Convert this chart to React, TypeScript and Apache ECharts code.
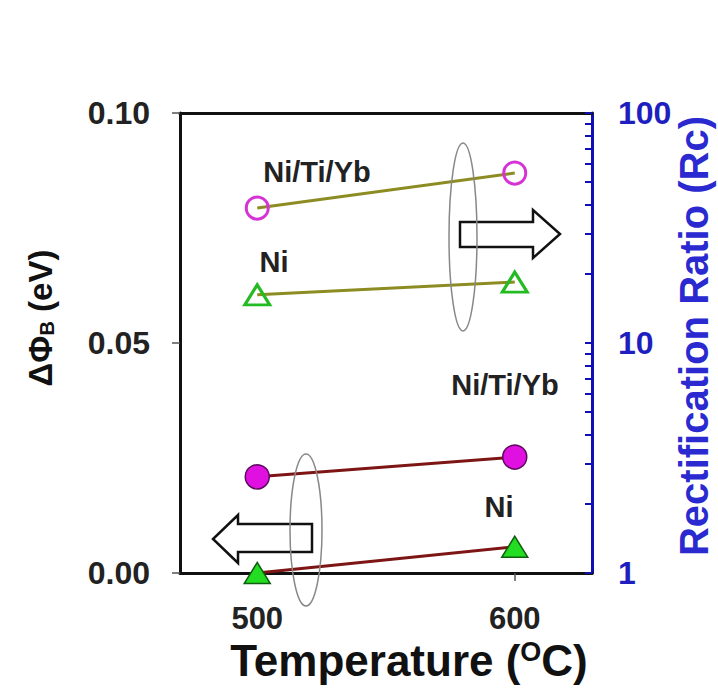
import React, { useEffect, useRef } from "react";
import * as echarts from "echarts";

const temperatures = [500, 600];
const dPhiNiTiYb = [0.0209, 0.0252];
const dPhiNi = [0.0, 0.0057];
const rcNiTiYb = [38.6, 54.8];
const rcNi = [16.2, 18.4];
const xTickValues = [500, 600];
const rightLabelValues = [1, 10, 100];
const rightTickValues = [1, 2, 3, 4, 5, 6, 7, 8, 9, 10, 20, 30, 40, 50, 60, 70, 80, 90, 100];

const FONT = "Arial, 'Liberation Sans', Helvetica, sans-serif";
const BLUE = "#1f1fc0";

function pairs(xs: number[], ys: number[]) {
  return xs.map((x, i) => [x, ys[i]]);
}

export default function App() {
  const ref = useRef<HTMLDivElement>(null);
  useEffect(() => {
    document.body.style.margin = "0";
    const chart = echarts.init(ref.current!, null, { renderer: "svg" });
    chart.setOption({
      animation: false,
      backgroundColor: "#ffffff",
      grid: { left: 180, top: 113, right: 126, bottom: 116, containLabel: false },
      xAxis: [
        {
          type: "value",
          min: 470,
          max: 630,
          axisLine: { show: true, lineStyle: { color: "#111", width: 3 } },
          axisTick: { show: true, customValues: xTickValues, length: 8, lineStyle: { color: "#555", width: 1.5 } },
          axisLabel: {
            customValues: xTickValues,
            margin: 30,
            color: "#222",
            fontSize: 31,
            fontWeight: "bold",
            fontFamily: FONT,
          },
          splitLine: { show: false },
        },
        {
          type: "value",
          position: "top",
          min: 470,
          max: 630,
          axisLine: { show: true, lineStyle: { color: "#111", width: 3 } },
          axisTick: { show: false },
          axisLabel: { show: false },
          splitLine: { show: false },
        },
      ],
      yAxis: [
        {
          type: "value",
          min: 0,
          max: 0.1,
          interval: 0.05,
          axisLine: { show: true, lineStyle: { color: "#111", width: 3 } },
          axisTick: { show: true, length: 8, lineStyle: { color: "#555", width: 1.5 } },
          axisLabel: {
            formatter: (v: number) => v.toFixed(2),
            margin: 30,
            color: "#222",
            fontSize: 32,
            fontWeight: "bold",
            fontFamily: FONT,
          },
          splitLine: { show: false },
        },
        {
          type: "log",
          logBase: 10,
          min: 1,
          max: 100,
          position: "right",
          axisLine: { show: true, lineStyle: { color: "#1010b0", width: 3 } },
          axisTick: {
            show: true,
            inside: true,
            length: 7,
            customValues: rightTickValues,
            lineStyle: { color: "#1010b0", width: 2 },
          },
          minorTick: { show: false },
          axisLabel: {
            customValues: rightLabelValues,
            margin: 26,
            color: BLUE,
            fontSize: 32,
            fontWeight: "bold",
            fontFamily: FONT,
          },
          splitLine: { show: false },
        },
      ],
      series: [
        {
          name: "dPhi Ni/Ti/Yb",
          type: "line",
          xAxisIndex: 0,
          yAxisIndex: 0,
          data: pairs(temperatures, dPhiNiTiYb),
          clip: false,
          symbol: "circle",
          symbolSize: 24,
          lineStyle: { color: "#7d1515", width: 3 },
          itemStyle: { color: "#e010e0", borderColor: "#5a0a5a", borderWidth: 1.5 },
        },
        {
          name: "dPhi Ni",
          type: "line",
          xAxisIndex: 0,
          yAxisIndex: 0,
          data: pairs(temperatures, dPhiNi),
          clip: false,
          symbol: "triangle",
          symbolSize: [26, 21],
          lineStyle: { color: "#7d1515", width: 3 },
          itemStyle: { color: "#22dd22", borderColor: "#0f5f0f", borderWidth: 1.5 },
        },
        {
          name: "Rc Ni/Ti/Yb",
          type: "line",
          xAxisIndex: 0,
          yAxisIndex: 1,
          data: pairs(temperatures, rcNiTiYb),
          clip: false,
          symbol: "circle",
          symbolSize: 22,
          lineStyle: { color: "#8c8c22", width: 3 },
          itemStyle: { color: "rgba(255,255,255,0)", borderColor: "#d633d6", borderWidth: 3 },
        },
        {
          name: "Rc Ni",
          type: "line",
          xAxisIndex: 0,
          yAxisIndex: 1,
          data: pairs(temperatures, rcNi),
          clip: false,
          symbol: "triangle",
          symbolSize: [25, 20],
          lineStyle: { color: "#8c8c22", width: 3 },
          itemStyle: { color: "rgba(255,255,255,0)", borderColor: "#22bb22", borderWidth: 3 },
        },
      ],
      graphic: [
        {
          type: "polygon",
          z: 5,
          shape: {
            points: [
              [460, 222], [533, 222], [533, 210], [560, 234], [533, 258], [533, 247], [460, 247],
            ],
          },
          style: { fill: "#ffffff", stroke: "#111", lineWidth: 2.5 },
        },
        {
          type: "polygon",
          z: 5,
          shape: {
            points: [
              [312, 524], [238, 524], [238, 515], [213, 539], [238, 563], [238, 552], [312, 552],
            ],
          },
          style: { fill: "#ffffff", stroke: "#111", lineWidth: 2.5 },
        },
        {
          type: "ellipse",
          z: 6,
          shape: { cx: 463, cy: 237, rx: 14, ry: 94 },
          style: { fill: "transparent", stroke: "#888", lineWidth: 1.5 },
        },
        {
          type: "ellipse",
          z: 6,
          shape: { cx: 306, cy: 530, rx: 16, ry: 76 },
          style: { fill: "transparent", stroke: "#888", lineWidth: 1.5 },
        },
        {
          type: "text",
          z: 7,
          x: 317,
          y: 172,
          style: { text: "Ni/Ti/Yb", fill: "#222", fontSize: 29, fontWeight: "bold", fontFamily: FONT, align: "center", verticalAlign: "middle" },
        },
        {
          type: "text",
          z: 7,
          x: 274,
          y: 262,
          style: { text: "Ni", fill: "#222", fontSize: 29, fontWeight: "bold", fontFamily: FONT, align: "center", verticalAlign: "middle" },
        },
        {
          type: "text",
          z: 7,
          x: 505,
          y: 385,
          style: { text: "Ni/Ti/Yb", fill: "#222", fontSize: 29, fontWeight: "bold", fontFamily: FONT, align: "center", verticalAlign: "middle" },
        },
        {
          type: "text",
          z: 7,
          x: 499,
          y: 507,
          style: { text: "Ni", fill: "#222", fontSize: 29, fontWeight: "bold", fontFamily: FONT, align: "center", verticalAlign: "middle" },
        },
        {
          type: "text",
          z: 7,
          x: 409,
          y: 660,
          style: {
            text: "Temperature ({sup|O}C)",
            fill: "#111",
            fontSize: 44,
            fontWeight: "bold",
            fontFamily: FONT,
            align: "center",
            verticalAlign: "middle",
            rich: {
              sup: { fontSize: 27, fontWeight: "bold", fontFamily: FONT, fill: "#111", verticalAlign: "top", padding: [0, 0, 13, 0] },
            },
          },
        },
        {
          type: "text",
          z: 7,
          x: 40,
          y: 318,
          rotation: Math.PI / 2,
          style: {
            text: "ΔΦ{sub|B} (eV)",
            fill: "#111",
            fontSize: 33,
            fontWeight: "bold",
            fontFamily: FONT,
            align: "center",
            verticalAlign: "middle",
            rich: {
              sub: { fontSize: 20, fontWeight: "bold", fontFamily: FONT, fill: "#111", verticalAlign: "bottom", padding: [12, 0, 0, 0] },
            },
          },
        },
        {
          type: "text",
          z: 7,
          x: 694,
          y: 336,
          rotation: Math.PI / 2,
          style: {
            text: "Rectification Ratio (Rc)",
            fill: "#2a2ad0",
            fontSize: 40,
            fontWeight: "bold",
            fontFamily: FONT,
            align: "center",
            verticalAlign: "middle",
          },
        },
      ],
    });
    return () => chart.dispose();
  }, []);
  return <div ref={ref} style={{ width: 718, height: 689 }} />;
}
